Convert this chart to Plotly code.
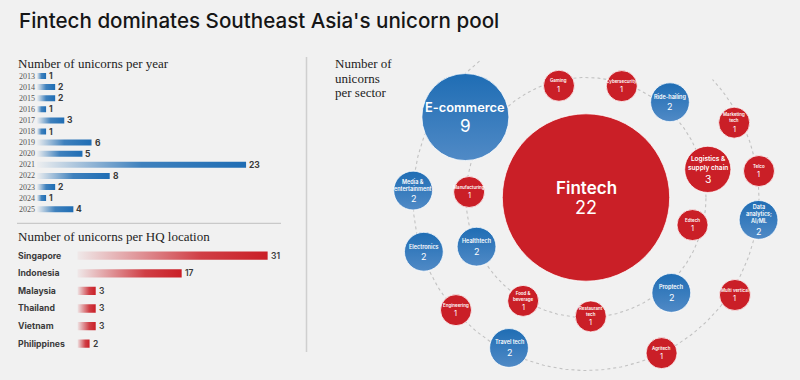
import numpy as np
import plotly.graph_objects as go

W, H = 800, 380

# ---------------- data ----------------
years = ["2013", "2014", "2015", "2016", "2017", "2018", "2019",
         "2020", "2021", "2022", "2023", "2024", "2025"]
year_counts = [1, 2, 2, 1, 3, 1, 6, 5, 23, 8, 2, 1, 4]

countries = ["Singapore", "Indonesia", "Malaysia", "Thailand", "Vietnam", "Philippines"]
country_counts = [31, 17, 3, 3, 3, 2]

sectors = ["Fintech", "E-commerce", "Logistics &<br>supply chain", "Ride-hailing",
           "Gaming", "Cybersecurity", "Marketing<br>tech", "Telco",
           "Data<br>analytics;<br>AI/ML", "Edtech", "Multi vertical", "Proptech",
           "Agritech", "Restaurant<br>tech", "Food &<br>beverage", "Travel tech",
           "Engineering", "Healthtech", "Electronics", "Media &<br>entertainment",
           "Manufacturing"]
sector_counts = [22, 9, 3, 2, 1, 1, 1, 1, 2, 1, 1, 2, 1, 1, 1, 2, 1, 2, 2, 2, 1]

# ---------------- layout / style (not data) ----------------
sector_blue = [False, True, False, True, False, False, False, False, True, False, False,
               True, False, False, False, True, False, True, True, True, False]
# placement of each bubble around Fintech: distance (px) and angle (deg)
sector_ring = [0, 145, 125, 127, 115, 117, 166, 175, 174, 110, 178, 128, 173, 119,
               121, 169, 172, 120, 171, 173, 117]
sector_angle = [0, 146.3, 13, 48.6, 103.6, 72.2, 26.8, 8.7, -7.4, -14.5, -33.2, -48.2,
                -64.1, -87.7, 238.7, 242.9, 220.9, 204.2, 198.5, 177.7, 177.3]

BLUE = "rgb(31,109,180)"
RED = "rgb(202,31,39)"
BG = "#f1f1f1"
SANS = "Inter, Noto Sans, sans-serif"
SERIF = "Liberation Serif, serif"


def pxx(x):
    return x / W


def pxy(y):
    return 1 - y / H


def bubble_radius(v):
    return 11 + 4.5 * v ** 0.9


def name_size(v):
    return min(17.0, 3.4 + 1.05 * v)


def num_size(v):
    return min(18.0, 5.5 + 2.0 * v ** 0.8)


fig = go.Figure()

# ---------------- year bars ----------------
YSC = 9.09
X0_YEAR = 37
blue_grad = [[0, "rgba(31,109,180,0.02)"], [0.5, "rgba(31,109,180,0.85)"], [1, BLUE]]
for i, v in enumerate(year_counts):
    h = 0.27
    fig.add_trace(go.Scatter(
        x=[0, v, v, 0, 0], y=[i - h, i - h, i + h, i + h, i - h],
        mode="lines", line=dict(width=0, color="rgba(0,0,0,0)"),
        fill="toself", fillcolor=BLUE,
        fillgradient=dict(type="horizontal", colorscale=blue_grad),
        hoverinfo="skip", showlegend=False, xaxis="x", yaxis="y"))

# ---------------- country bars ----------------
CSC = 6.14
X0_CTRY = 77.3
red_grad = [[0, "rgba(202,31,39,0.04)"], [0.65, "rgba(202,31,39,0.85)"], [1, RED]]
for i, v in enumerate(country_counts):
    h = 0.235
    fig.add_trace(go.Scatter(
        x=[0, v, v, 0, 0], y=[i - h, i - h, i + h, i + h, i - h],
        mode="lines", line=dict(width=0, color="rgba(0,0,0,0)"),
        fill="toself", fillcolor=RED,
        fillgradient=dict(type="horizontal", colorscale=red_grad),
        hoverinfo="skip", showlegend=False, xaxis="x2", yaxis="y2"))

# ---------------- orbits (x3/y3: 1 unit = 1 px, origin at Fintech) ----------------
R_IN, R_OUT = 120, 173
t_in = np.radians(np.linspace(0, 360, 361))
t_out = np.radians(np.linspace(128, 403, 300))
for R, t in ((R_IN, t_in), (R_OUT, t_out)):
    fig.add_trace(go.Scatter(x=R * np.cos(t), y=R * np.sin(t), mode="lines",
                             line=dict(color="#c2c2c2", width=1.1, dash="dot"),
                             hoverinfo="skip", showlegend=False, xaxis="x3", yaxis="y3"))

# ---------------- bubbles ----------------
ang = np.radians(sector_angle)
bx = np.array(sector_ring) * np.cos(ang)
by = np.array(sector_ring) * np.sin(ang)

for blue in (False, True):
    idx = [k for k in range(len(sectors)) if sector_blue[k] == blue]
    marker = dict(size=[2 * bubble_radius(sector_counts[k]) for k in idx],
                  color=BLUE if blue else RED,
                  line=dict(color="rgba(255,255,255,0.75)", width=1), opacity=1)
    if blue:
        marker["gradient"] = dict(type="vertical", color="rgb(80,138,198)")
    fig.add_trace(go.Scatter(
        x=bx[idx], y=by[idx], mode="markers", marker=marker,
        cliponaxis=False, hoverinfo="skip", showlegend=False, xaxis="x3", yaxis="y3"))

# ---------------- annotations ----------------
ann = []
ann.append(dict(text="Fintech dominates Southeast Asia's unicorn pool", x=pxx(17), y=pxy(21),
                xref="paper", yref="paper", xanchor="left", yanchor="middle", showarrow=False,
                font=dict(family=SANS, size=20.6, color="#161616", weight=500)))
ann.append(dict(text="Number of unicorns per year", x=pxx(16), y=pxy(63.5),
                xref="paper", yref="paper", xanchor="left", yanchor="middle", showarrow=False,
                font=dict(family=SERIF, size=13, color="#222")))
ann.append(dict(text="Number of unicorns per HQ location", x=pxx(16), y=pxy(236),
                xref="paper", yref="paper", xanchor="left", yanchor="middle", showarrow=False,
                font=dict(family=SERIF, size=13, color="#222")))
for k, line in enumerate(["Number of", "unicorns", "per sector"]):
    ann.append(dict(text=line, x=pxx(333), y=pxy(63.5 + 14.7 * k),
                    xref="paper", yref="paper", xanchor="left", yanchor="middle",
                    showarrow=False, font=dict(family=SERIF, size=13, color="#222")))

for i, (yr, v) in enumerate(zip(years, year_counts)):
    ann.append(dict(text=yr, x=pxx(17), y=i, xref="paper", yref="y", xanchor="left",
                    yanchor="middle", showarrow=False,
                    font=dict(family=SERIF, size=8, color="#555")))
    ann.append(dict(text=str(v), x=v, y=i, xref="x", yref="y", xanchor="left",
                    yanchor="middle", xshift=1, showarrow=False,
                    font=dict(family=SANS, size=8.5, color="#3a3a3a", weight=700)))

for i, (c, v) in enumerate(zip(countries, country_counts)):
    ann.append(dict(text=c, x=pxx(16), y=i, xref="paper", yref="y2", xanchor="left",
                    yanchor="middle", showarrow=False,
                    font=dict(family=SANS, size=8.7, color="#3c3c3c", weight=700)))
    ann.append(dict(text=str(v), x=v, y=i, xref="x2", yref="y2", xanchor="left",
                    yanchor="middle", xshift=1, showarrow=False,
                    font=dict(family=SANS, size=8.5, color="#3a3a3a", weight=600)))

# bubble labels: name block above, count below, whole block centred in bubble
for k, (name, v) in enumerate(zip(sectors, sector_counts)):
    fn, fv = name_size(v), num_size(v)
    L = name.count("<br>") + 1
    g = 1.05 * fv + 0.5
    y_last = ((L - 1) * 1.3 * fn + 0.36 * fn - g - 0.36 * fv) / 2
    name_c = y_last - (L - 1) * 1.3 * fn / 2
    num_c = y_last + g
    ann.append(dict(text=name, x=bx[k], y=by[k], xref="x3", yref="y3",
                    xanchor="center", yanchor="middle", yshift=-name_c, showarrow=False,
                    font=dict(family=SANS, size=fn, color="white", weight=600)))
    ann.append(dict(text=str(v), x=bx[k], y=by[k], xref="x3", yref="y3",
                    xanchor="center", yanchor="middle", yshift=-num_c, showarrow=False,
                    font=dict(family=SANS, size=fv, color="white", weight=400)))

ann.append(dict(text="Source:", x=pxx(17), y=pxy(376), xref="paper", yref="paper",
                xanchor="left", yanchor="top", showarrow=False,
                font=dict(family=SANS, size=11, color="#9cc3e6")))

shapes = [
    dict(type="line", xref="paper", yref="paper", x0=pxx(306.5), x1=pxx(306.5),
         y0=pxy(57), y1=pxy(352), line=dict(color="#cfcfcf", width=1.5)),
    dict(type="line", xref="paper", yref="paper", x0=pxx(17), x1=pxx(281),
         y0=pxy(223.3), y1=pxy(223.3), line=dict(color="#c9c9c9", width=1.2)),
]

hidden = dict(visible=False, showgrid=False, zeroline=False, fixedrange=True)
YR_MAX = 26
CT_MAX = 33
ROW_Y = 11.1
ROW_C = 17.6
PR = 180
CX, CY = 586, 197.5

fig.update_layout(
    width=W, height=H, margin=dict(l=0, r=0, t=0, b=0),
    paper_bgcolor=BG, plot_bgcolor="rgba(0,0,0,0)", showlegend=False,
    xaxis=dict(domain=[pxx(X0_YEAR), pxx(X0_YEAR + YSC * YR_MAX)], range=[0, YR_MAX], **hidden),
    yaxis=dict(domain=[pxy(76 + ROW_Y * 12.5), pxy(76 - ROW_Y * 0.5)],
               range=[12.5, -0.5], **hidden),
    xaxis2=dict(domain=[pxx(X0_CTRY), pxx(X0_CTRY + CSC * CT_MAX)], range=[0, CT_MAX],
                anchor="y2", **hidden),
    yaxis2=dict(domain=[pxy(255.7 + ROW_C * 5.5), pxy(255.7 - ROW_C * 0.5)],
                range=[5.5, -0.5], anchor="x2", **hidden),
    xaxis3=dict(domain=[pxx(CX - PR), pxx(CX + PR)], range=[-PR, PR], anchor="y3", **hidden),
    yaxis3=dict(domain=[pxy(CY + PR), pxy(CY - PR)], range=[-PR, PR], anchor="x3", **hidden),
    annotations=ann, shapes=shapes,
)

fig.write_html("out.html", config={"displayModeBar": False},
               post_script="document.body.style.margin='0';document.body.style.overflow='hidden';")
